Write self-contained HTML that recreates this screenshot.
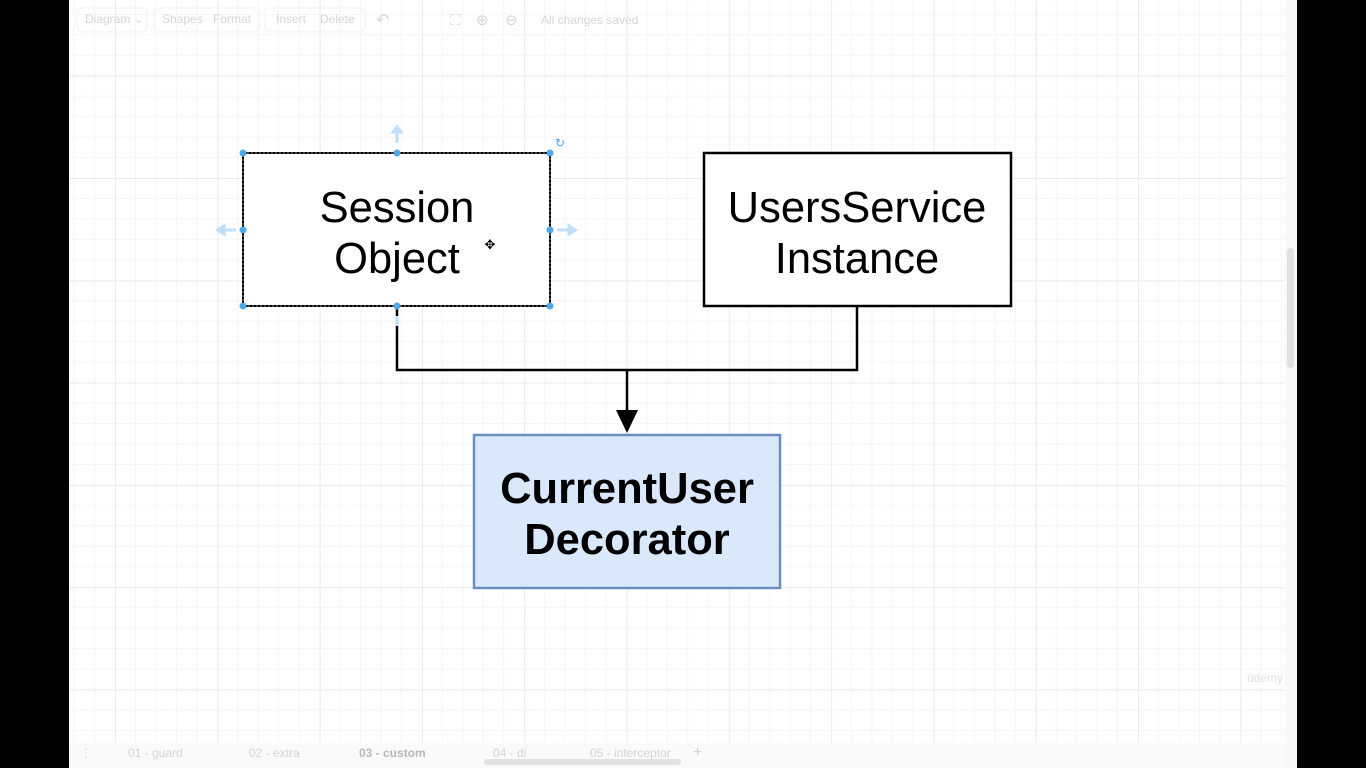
<!DOCTYPE html>
<html><head><meta charset="utf-8"><style>
html,body{margin:0;padding:0;background:#000;width:1366px;height:768px;overflow:hidden}
svg{display:block}
</style></head><body>
<svg width="1366" height="768" xmlns="http://www.w3.org/2000/svg" font-family="Liberation Sans, sans-serif">
<defs>
<pattern id="g" x="115" y="75.7" width="102.3" height="102.3" patternUnits="userSpaceOnUse">
<rect width="102.3" height="102.3" fill="#fff"/>
<g stroke="#f6f6f6" stroke-width="1">
<path d="M20.46 0V102.3M40.92 0V102.3M61.38 0V102.3M81.84 0V102.3M0 20.46H102.3M0 40.92H102.3M0 61.38H102.3M0 81.84H102.3"/>
</g>
<path d="M0.5 0V102.3M0 0.5H102.3" stroke="#eaeaea" stroke-width="1"/>
</pattern>
</defs>
<rect x="69" y="0" width="1228" height="768" fill="url(#g)"/>
<rect x="1285" y="0" width="12" height="768" fill="#f8f8f8"/>
<rect x="1287" y="248" width="7" height="120" rx="3.5" fill="#e0e0e0"/>
<!-- toolbar -->
<g fill="#d6d6d6" font-size="12">
<rect x="77" y="8" width="70" height="24" rx="4" fill="none" stroke="#f2f2f2"/>
<rect x="154" y="8" width="105" height="24" rx="4" fill="none" stroke="#f2f2f2"/>
<rect x="265" y="8" width="100" height="24" rx="4" fill="none" stroke="#f2f2f2"/>
<text x="85" y="23">Diagram ⌄</text>
<text x="162" y="23">Shapes</text><text x="213" y="23">Format</text>
<text x="276" y="23">Insert</text><text x="320" y="23">Delete</text>
<text x="376" y="25" font-size="16">↶</text>
<text x="450" y="25" font-size="15">⛶</text>
<text x="476" y="25" font-size="15">⊕</text>
<text x="505" y="25" font-size="15">⊖</text>
<text x="541" y="24">All changes saved</text>
</g>
<!-- bottom tabs -->
<rect x="69" y="743" width="1216" height="25" fill="#fafafa" opacity="0.9"/>
<g fill="#d4d4d4" font-size="12">
<text x="80" y="757">⋮</text>
<text x="128" y="757">01 - guard</text>
<text x="249" y="757">02 - extra</text>
<text x="359" y="757" font-weight="bold" fill="#b8b8b8">03 - custom</text>
<text x="493" y="757">04 - di</text>
<text x="590" y="757">05 - interceptor</text>
<text x="693" y="757" font-size="16">+</text>
</g>
<rect x="484" y="759" width="197" height="6" rx="3" fill="#e2e2e2"/>
<text x="1247" y="682" font-size="12" fill="#e0e0e0">ûdemy</text>
<!-- connectors -->
<path d="M397 306V370H857V306M627 370V415" fill="none" stroke="#000" stroke-width="2.5"/>
<path d="M616 410L627 433L638 410Z" fill="#000"/>
<!-- session box -->
<rect x="243" y="153" width="307" height="153" fill="#fff" stroke="#000" stroke-width="2"/>
<rect x="243" y="153" width="307" height="153" fill="none" stroke="#888" stroke-width="1" stroke-dasharray="2 2"/>
<text x="397" y="222" font-size="43.5" text-anchor="middle">Session</text>
<text x="397" y="273" font-size="43.5" text-anchor="middle">Object</text>
<text x="490" y="249" font-size="13" text-anchor="middle">✥</text>
<g fill="#4fa8e8">
<circle cx="243" cy="153" r="3.5"/><circle cx="397" cy="153" r="3.5"/><circle cx="550" cy="153" r="3.5"/>
<circle cx="243" cy="230" r="3.5"/><circle cx="550" cy="230" r="3.5"/>
<circle cx="243" cy="306" r="3.5"/><circle cx="397" cy="306" r="3.5"/><circle cx="550" cy="306" r="3.5"/>
</g>
<g fill="#bfe0f7" stroke="#bfe0f7">
<path d="M397 143V131" stroke-width="3"/><path d="M391 133L397 125L403 133Z"/>
<path d="M236 230H224" stroke-width="3"/><path d="M225 224L216 230L225 236Z"/>
<path d="M557 230H569" stroke-width="3"/><path d="M568 224L577 230L568 236Z"/>
<path d="M397 316V326" stroke-width="3"/>
</g>
<text x="560" y="147" font-size="12" fill="#4fa8e8" text-anchor="middle">↻</text>
<!-- users service -->
<rect x="704" y="153" width="307" height="153" fill="#fff" stroke="#000" stroke-width="2.5"/>
<text x="857" y="222" font-size="43.5" text-anchor="middle">UsersService</text>
<text x="857" y="273" font-size="43.5" text-anchor="middle">Instance</text>
<!-- decorator -->
<rect x="474" y="435" width="306" height="153" fill="#dae8fc" stroke="#6c8ebf" stroke-width="2.5"/>
<text x="627" y="503" font-size="43.5" font-weight="bold" text-anchor="middle">CurrentUser</text>
<text x="627" y="554" font-size="43.5" font-weight="bold" text-anchor="middle">Decorator</text>
</svg>
</body></html>
